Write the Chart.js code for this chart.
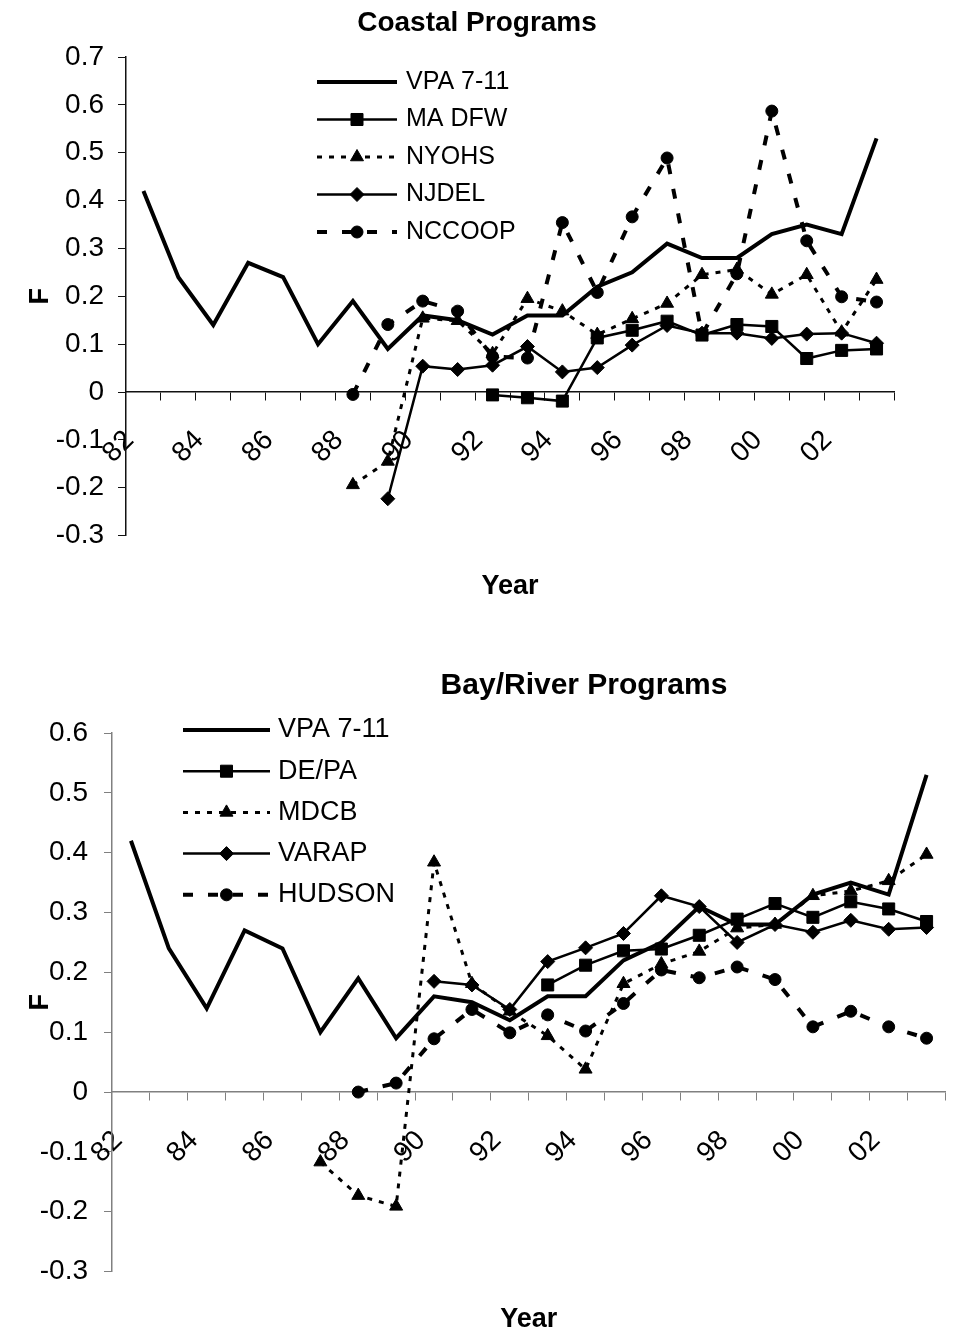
<!DOCTYPE html>
<html>
<head>
<meta charset="utf-8">
<script src="https://cdn.jsdelivr.net/npm/chart.js@4.4.1/dist/chart.umd.min.js"></script>
<style>
  html, body { margin: 0; padding: 0; background: #fff; overflow: hidden; }
  #wrap { position: relative; width: 961px; height: 1336px; overflow: hidden; }
  canvas { position: absolute; left: 0; }
  #coastal { top: 0; }
  #bayRiver { top: 650px; }
</style>
</head>
<body>
<div id="wrap">
  <canvas id="coastal" width="961" height="620"></canvas>
  <canvas id="bayRiver" width="975" height="686"></canvas>
</div>
<script>
// Fishing mortality (F) by year
const years = ['82','83','84','85','86','87','88','89','90','91','92','93','94','95','96','97','98','99','00','01','02','03'];

const vpa711 = [0.42, 0.24, 0.14, 0.27, 0.24, 0.10, 0.19, 0.09, 0.16, 0.15, 0.12, 0.16, 0.16, 0.22, 0.25, 0.31, 0.28, 0.28, 0.33, 0.35, 0.33, 0.53];

// Coastal programs
const coastalNames = ['VPA 7-11', 'MA DFW', 'NYOHS', 'NJDEL', 'NCCOOP'];
const maDfw  = [null, null, null, null, null, null, null, null, null, null, -0.006, -0.012, -0.019, 0.113, 0.129, 0.148, 0.119, 0.141, 0.137, 0.070, 0.087, 0.090];
const nyohs  = [null, null, null, null, null, null, -0.194, -0.145, 0.154, 0.149, 0.080, 0.195, 0.169, 0.120, 0.153, 0.185, 0.245, 0.256, 0.204, 0.245, 0.125, 0.235];
const njdel  = [null, null, null, null, null, null, null, -0.223, 0.054, 0.047, 0.056, 0.095, 0.042, 0.051, 0.098, 0.139, 0.123, 0.123, 0.112, 0.121, 0.123, 0.102];
const nccoop = [null, null, null, null, null, null, -0.005, 0.141, 0.190, 0.169, 0.074, 0.071, 0.354, 0.208, 0.366, 0.489, 0.120, 0.247, 0.587, 0.316, 0.199, 0.188];

// Bay / river programs
const bayNames = ['VPA 7-11', 'DE/PA', 'MDCB', 'VARAP', 'HUDSON'];
const dePa   = [null, null, null, null, null, null, null, null, null, null, null, 0.179, 0.212, 0.236, 0.239, 0.262, 0.289, 0.315, 0.292, 0.318, 0.306, 0.285];
const mdcb   = [null, null, null, null, null, -0.117, -0.173, -0.191, 0.384, 0.181, 0.135, 0.094, 0.038, 0.181, 0.214, 0.235, 0.274, 0.280, 0.328, 0.336, 0.353, 0.397];
const varap  = [null, null, null, null, null, null, null, null, 0.185, 0.179, 0.138, 0.218, 0.241, 0.265, 0.328, 0.310, 0.250, 0.280, 0.267, 0.287, 0.272, 0.275];
const hudson = [null, null, null, null, null, null, 0.000, 0.015, 0.089, 0.138, 0.099, 0.129, 0.102, 0.148, 0.204, 0.191, 0.209, 0.188, 0.109, 0.135, 0.109, 0.090];

// one style per series slot (same order in both charts)
const lineStyles = [
    { borderWidth: 4,   borderDash: [],       pointStyle: 'circle',   pointRadius: 0 },
    { borderWidth: 2.5, borderDash: [],       pointStyle: 'rect',     pointRadius: 8.5 },
    { borderWidth: 3,   borderDash: [5, 7],   pointStyle: 'triangle', pointRadius: 7.5 },
    { borderWidth: 2.5, borderDash: [],       pointStyle: 'rectRot',  pointRadius: 7 },
    { borderWidth: 4,   borderDash: [10, 15], pointStyle: 'circle',   pointRadius: 6 }
];

const FONT = '"Liberation Sans", Arial, sans-serif';
Chart.defaults.font.family = FONT;
Chart.defaults.color = '#000';

// legend drawn inside the plot: line sample with its marker, then the name
const insideLegend = {
    id: 'insideLegend',
    afterDraw(chart, args, opts) {
        const ctx = chart.ctx;
        ctx.save();
        ctx.font = opts.font;
        ctx.fillStyle = '#000';
        ctx.strokeStyle = '#000';
        ctx.textBaseline = 'middle';
        chart.data.datasets.forEach((ds, i) => {
            const y = opts.y + i * opts.rowHeight;
            ctx.lineWidth = ds.borderWidth;
            ctx.setLineDash(ds.borderDash);
            ctx.beginPath();
            ctx.moveTo(opts.x, y);
            ctx.lineTo(opts.x + opts.lineLength, y);
            ctx.stroke();
            ctx.setLineDash([]);
            if (ds.pointRadius > 0) {
                ctx.lineWidth = 1;
                Chart.helpers.drawPoint(ctx, { pointStyle: ds.pointStyle, radius: ds.pointRadius, rotation: 0, borderWidth: 1 },
                    opts.x + opts.lineLength / 2, y);
            }
            ctx.fillText(ds.label, opts.x + opts.lineLength + opts.gap, y);
        });
        ctx.restore();
    }
};

// chart heading placed at a fixed spot
const placedTitle = {
    id: 'placedTitle',
    afterDraw(chart, args, opts) {
        const ctx = chart.ctx;
        ctx.save();
        ctx.font = opts.font;
        ctx.fillStyle = '#000';
        ctx.textAlign = 'center';
        ctx.textBaseline = 'middle';
        ctx.fillText(opts.text, opts.x, opts.y);
        ctx.restore();
    }
};

const makeChart = (canvasId, names, series, cfg) => {
    const datasets = names.map((name, i) => ({
        label: name,
        data: series[i],
        borderColor: '#000',
        backgroundColor: '#000',
        pointBackgroundColor: '#000',
        pointBorderColor: '#000',
        pointBorderWidth: 1,
        borderWidth: lineStyles[i].borderWidth,
        borderDash: lineStyles[i].borderDash,
        pointStyle: lineStyles[i].pointStyle,
        pointRadius: lineStyles[i].pointRadius,
        tension: 0,
        fill: false,
        spanGaps: false,
        order: names.length - i
    }));

    return new Chart(document.getElementById(canvasId), {
        type: 'line',
        data: { labels: years, datasets },
        plugins: [insideLegend, placedTitle],
        options: {
            responsive: false,
            animation: false,
            layout: { padding: cfg.padding },
            plugins: {
                legend: { display: false },
                tooltip: { enabled: false },
                title: { display: false },
                subtitle: {
                    display: true,
                    text: 'Year',
                    position: 'bottom',
                    fullSize: false,
                    font: { size: 27, weight: 'bold' },
                    padding: cfg.yearPadding
                },
                insideLegend: cfg.legend,
                placedTitle: cfg.title
            },
            scales: {
                x: {
                    position: { y: 0 },
                    offset: true,
                    grid: { display: true, drawOnChartArea: false, offset: true, tickLength: 8, color: cfg.axisColor },
                    border: { display: true, color: cfg.axisColor, width: 1.5 },
                    ticks: {
                        autoSkip: false,
                        minRotation: 45,
                        maxRotation: 45,
                        padding: cfg.xLabelPad,
                        labelOffset: cfg.xLabelShift,
                        font: { size: 28 },
                        callback: function (v, i) { return i % 2 === 0 ? this.getLabelForValue(v) : ''; }
                    }
                },
                y: {
                    min: cfg.yMin,
                    max: cfg.yMax,
                    grid: { drawOnChartArea: false, tickLength: 8, color: cfg.axisColor },
                    border: { display: true, color: cfg.axisColor, width: 1.5 },
                    ticks: {
                        stepSize: 0.1,
                        padding: cfg.yLabelPad,
                        font: { size: 28 },
                        callback: v => String(Math.round(v * 10) / 10)
                    },
                    title: {
                        display: true,
                        text: 'F',
                        font: { size: 27, weight: 'bold' },
                        padding: { top: 24, bottom: 0 }
                    },
                    afterFit: s => { s.width = cfg.yWidth; }
                }
            }
        }
    });
};

makeChart('coastal', coastalNames, [vpa711, maDfw, nyohs, njdel, nccoop], {
    yMin: -0.3, yMax: 0.7,
    yWidth: 126, yLabelPad: 14, xLabelPad: 24, xLabelShift: -14,
    axisColor: '#111',
    padding: { top: 57, left: 0, right: 67, bottom: 0 },
    yearPadding: { top: 35, bottom: 17 },
    legend: { x: 317, y: 82, rowHeight: 37.5, lineLength: 80, gap: 9, font: '25px ' + FONT },
    title: { text: 'Coastal Programs', x: 477, y: 23, font: 'bold 28px ' + FONT }
});

makeChart('bayRiver', bayNames, [vpa711, dePa, mdcb, varap, hudson], {
    yMin: -0.3, yMax: 0.6,
    yWidth: 112, yLabelPad: 16, xLabelPad: 24, xLabelShift: -13,
    axisColor: '#808080',
    padding: { top: 83, left: 0, right: 12, bottom: 0 },
    yearPadding: { top: 32, bottom: 0 },
    legend: { x: 183, y: 80, rowHeight: 41.2, lineLength: 87, gap: 8, font: '27px ' + FONT },
    title: { text: 'Bay/River Programs', x: 584, y: 36, font: 'bold 30px ' + FONT }
});
</script>
</body>
</html>
